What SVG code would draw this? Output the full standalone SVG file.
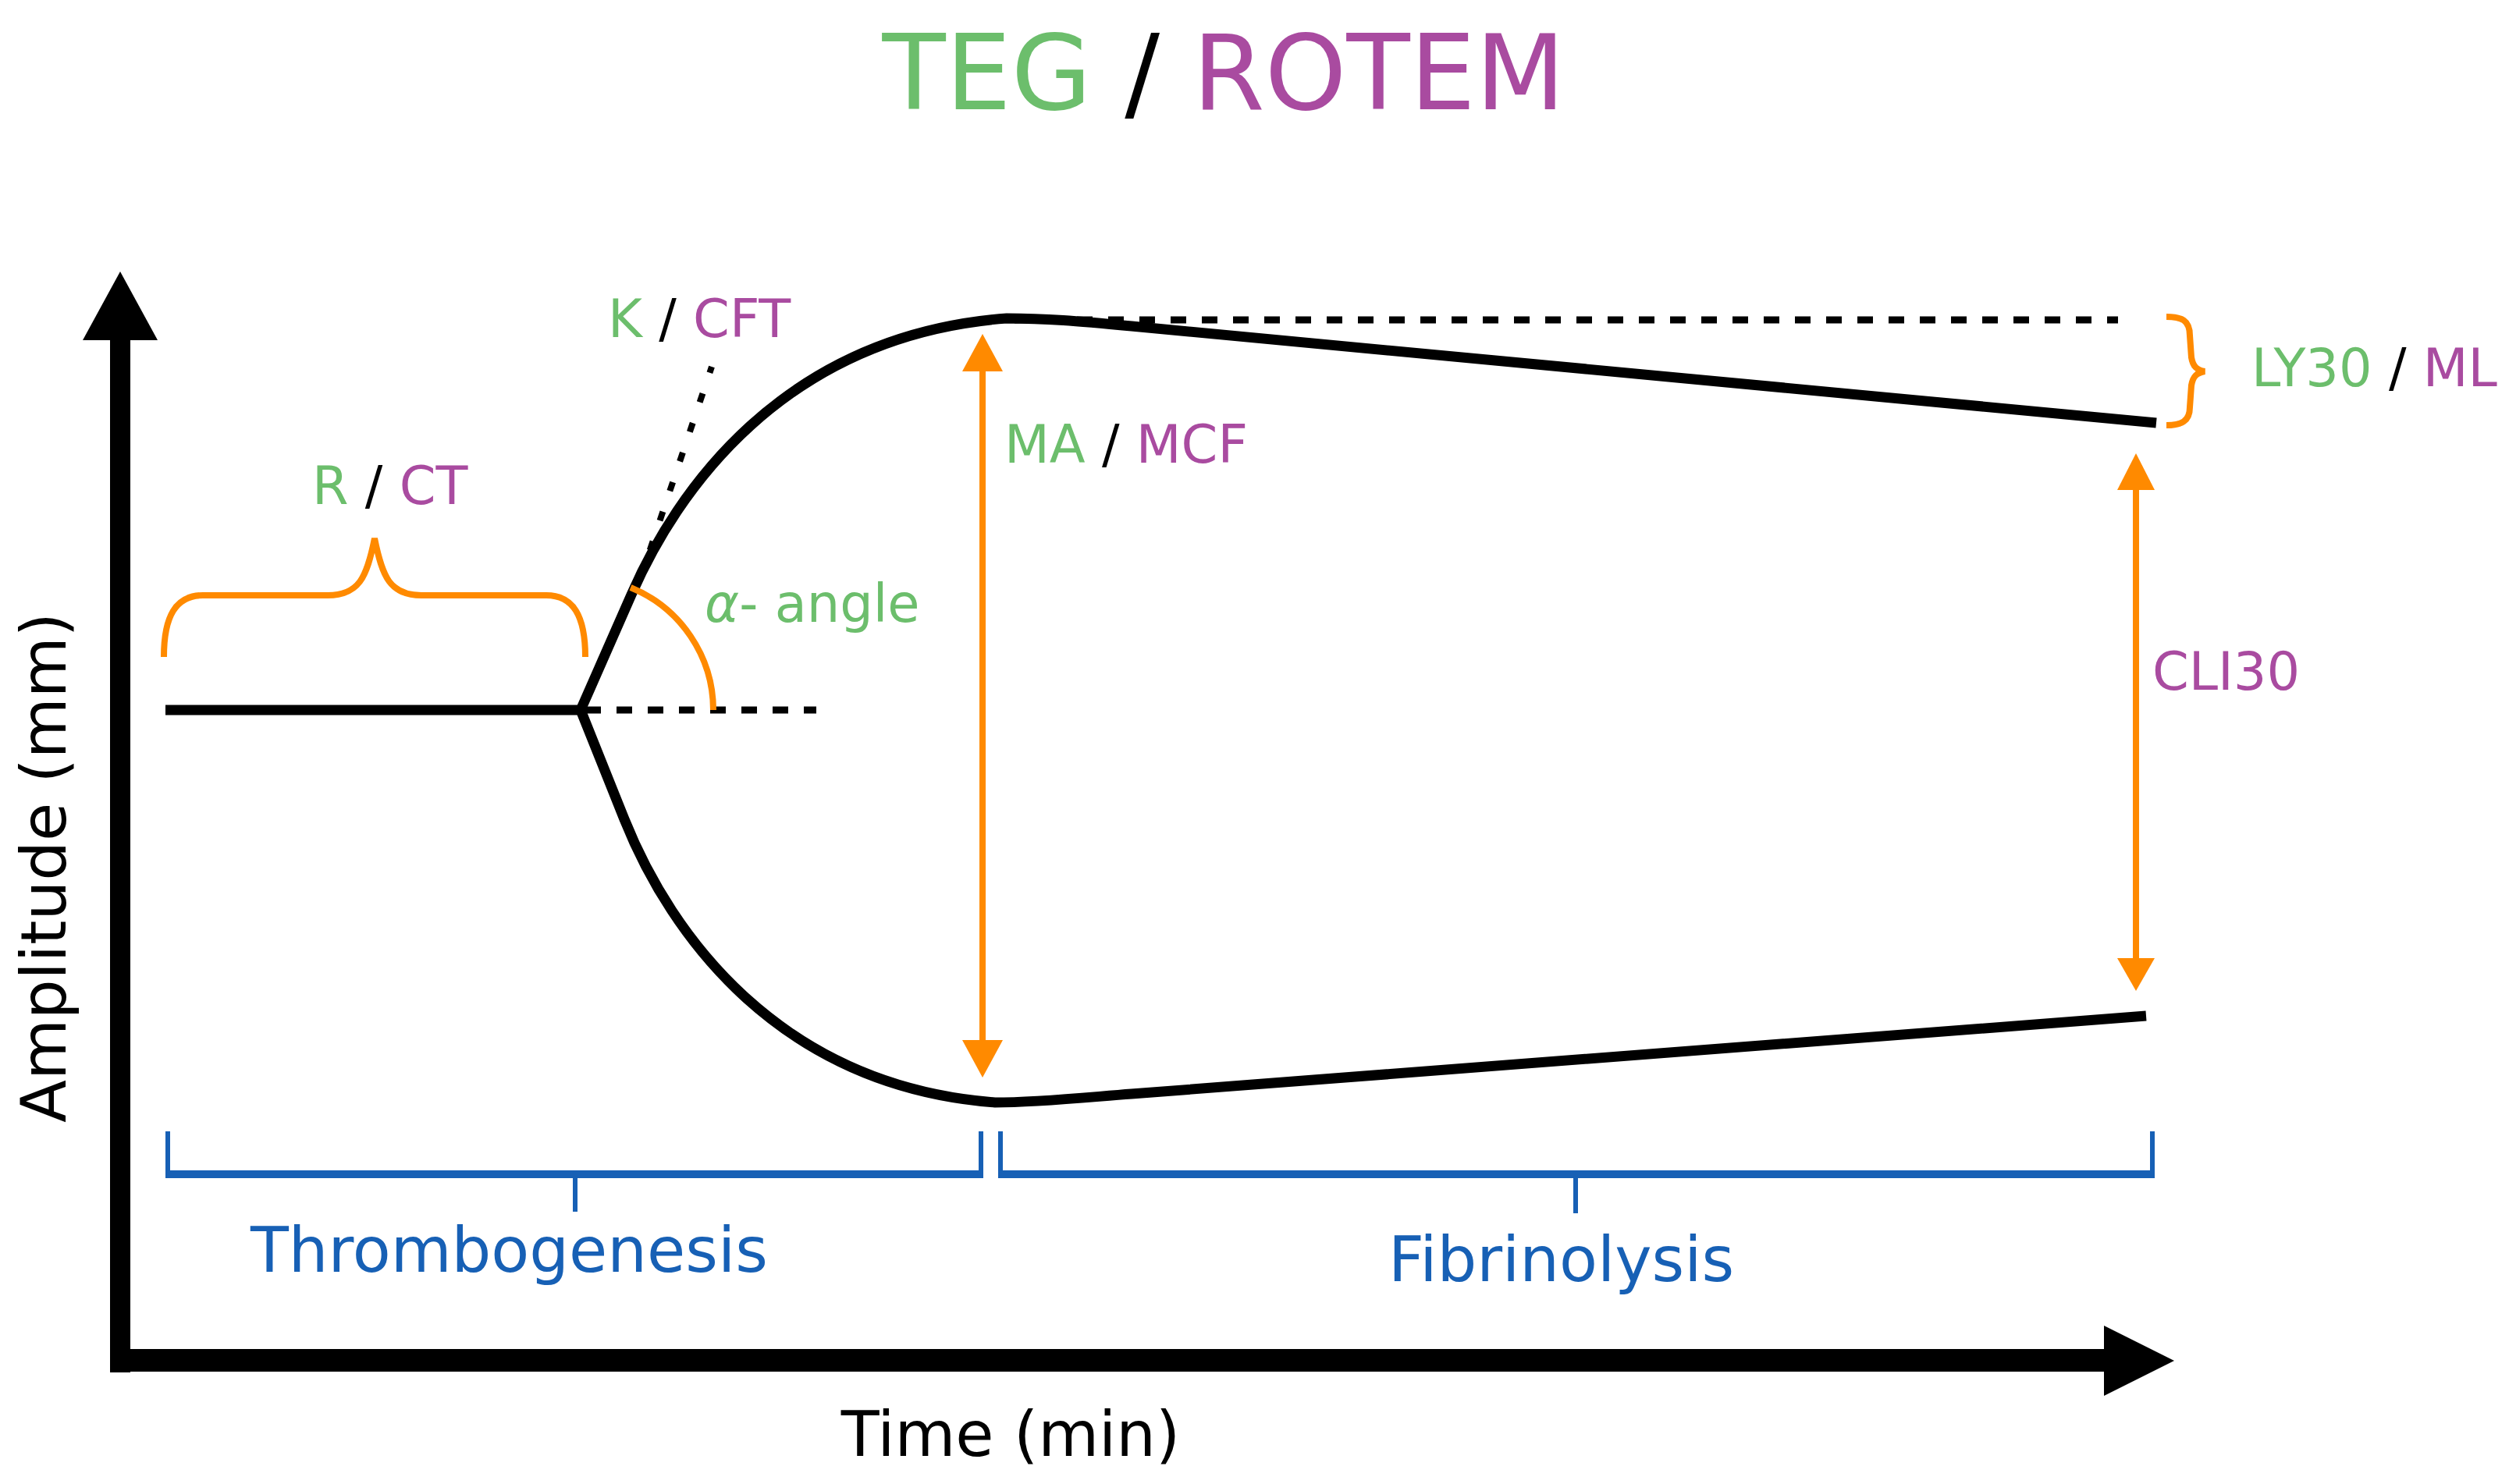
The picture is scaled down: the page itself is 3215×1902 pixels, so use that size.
<svg xmlns="http://www.w3.org/2000/svg" width="3215" height="1902" viewBox="0 0 3215 1902">
<style>
text{font-family:"DejaVu Sans","Liberation Sans",sans-serif}
.g{fill:#6cbe6c}.p{fill:#a94ba0}.k{fill:#000}.b{fill:#1760b5}
.lbl{font-size:67px}
.curve{fill:none;stroke:#000;stroke-width:13;stroke-linejoin:round}
.dash{fill:none;stroke:#000;stroke-width:9;stroke-dasharray:20 20}
.or{fill:none;stroke:#ff8a00;stroke-width:8}
.orf{fill:#ff8a00}
.bl{fill:none;stroke:#1760b5;stroke-width:6}
.blm{fill:none;stroke:#1760b5;stroke-width:10}
</style>
<rect width="3215" height="1902" fill="#fff"/>
<g id="title"><text x="1568" y="140" font-size="133" text-anchor="middle"><tspan class="g">TEG</tspan><tspan class="k"> / </tspan><tspan class="p">ROTEM</tspan></text></g>
<g id="axes">
<rect x="141" y="430" width="26" height="1329" fill="#000"/>
<polygon points="154,348 106,436 202,436" fill="#000"/>
<rect x="141" y="1729" width="2560" height="29" fill="#000"/>
<polygon points="2696,1699 2786,1744 2696,1789" fill="#000"/>
<text x="1295" y="1866" font-size="80" text-anchor="middle" class="k">Time (min)</text>
<text transform="translate(84,1112) rotate(-90)" font-size="80" text-anchor="middle" class="k">Amplitude (mm)</text>
</g>
<g id="connectors">
<path id="baseline" class="curve" d="M212,910 L744,910"/>
<path id="upper-curve" class="curve" d="M744,910 L810,760 C865,635 1000,430 1290,408 C1340,408 1380,411.4 1450,418 L2763,542"/>
<path id="lower-curve" class="curve" d="M744,910 L800,1050 C860,1200 1000,1392 1275,1413 C1330,1413 1390,1406.6 1450,1402 L2750,1302"/>
<path class="dash" d="M750,910 L1046,910"/>
<path class="dash" d="M1300,410 L2714,410"/>
<path class="dash" d="M820,743 L912,470" style="stroke-width:8;stroke-dasharray:12 28"/>
<path id="alpha-arc" class="or" d="M808,753 A170 170 0 0 1 914,910"/>
<path id="rct-brace" class="or" d="M210,842 C210,790 225,763 260,763 L420,763 C460,763 470,740 480,690 C490,740 500,763 540,763 L700,763 C735,763 750,790 750,842"/>
<path id="ly30-brace" class="or" d="M2776,406 C2795,406 2806,410 2806,430 L2808,458 C2810,470 2815,474 2825,476 C2815,478 2810,482 2808,494 L2806,522 C2806,540 2795,545 2776,545"/>
<line class="or" x1="1259" y1="470" x2="1259" y2="1340"/>
<polygon class="orf" points="1259,428 1233,476 1285,476"/>
<polygon class="orf" points="1259,1381 1233,1333 1285,1333"/>
<line class="or" x1="2737" y1="620" x2="2737" y2="1236"/>
<polygon class="orf" points="2737,581 2713,628 2761,628"/>
<polygon class="orf" points="2737,1270 2713,1228 2761,1228"/>
<path class="bl" d="M215,1450 L215,1505 M1257,1450 L1257,1505 M737,1505 L737,1553"/>
<path class="blm" d="M212,1505 L1260,1505"/>
<path class="bl" d="M1282,1450 L1282,1505 M2758,1450 L2758,1505 M2019,1505 L2019,1555"/>
<path class="blm" d="M1279,1505 L2761,1505"/>
</g>
<g id="label-rct"><text x="400" y="646" class="lbl"><tspan class="g">R</tspan><tspan class="k"> / </tspan><tspan class="p">CT</tspan></text></g>
<g id="label-kcft"><text x="779" y="432" class="lbl"><tspan class="g">K</tspan><tspan class="k"> / </tspan><tspan class="p">CFT</tspan></text></g>
<g id="label-alpha"><text x="903" y="797" class="lbl g"><tspan font-style="italic">α</tspan>- angle</text></g>
<g id="label-mamcf"><text x="1287" y="593" class="lbl"><tspan class="g">MA</tspan><tspan class="k"> / </tspan><tspan class="p">MCF</tspan></text></g>
<g id="label-ly30ml"><text x="2885" y="495" class="lbl"><tspan class="g">LY30</tspan><tspan class="k"> / </tspan><tspan class="p">ML</tspan></text></g>
<g id="label-cli30"><text x="2758" y="884" class="lbl p">CLI30</text></g>
<g id="label-thrombogenesis"><text x="321" y="1630" font-size="80" class="b">Thrombogenesis</text></g>
<g id="label-fibrinolysis"><text x="1779" y="1642" font-size="80" class="b">Fibrinolysis</text></g>
</svg>
